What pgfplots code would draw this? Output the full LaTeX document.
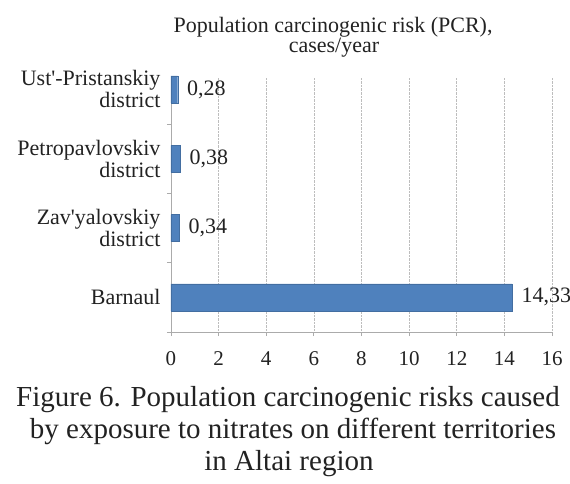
\documentclass[border=0pt]{standalone}
\usepackage{fontspec}
\setmainfont{Liberation Serif}
\usepackage{pgfplots}
\pgfplotsset{compat=1.18}
\definecolor{barblue}{HTML}{4F81BD}
\definecolor{axgray}{HTML}{ABABAB}
\definecolor{gridgray}{HTML}{BDBDBD}
\definecolor{txt}{HTML}{222222}
\begin{document}
\begin{tikzpicture}
\useasboundingbox (-171bp,-152bp) rectangle (399bp,332bp);
\begin{axis}[
  at={(0,0)}, anchor=south west,
  scale only axis, width=381bp, height=255bp,
  xbar, bar width=27bp,
  xmin=0, xmax=16, ymin=-0.5, ymax=3.18,
  xtick={0,2,...,16},
  ytick={0,1,2,3},
  yticklabels={Barnaul, {Zav\textquotesingle yalovskiy\\district}, {Petropavlovskiv\\district}, {Ust\textquotesingle-Pristanskiy\\district}},
  minor ytick={-0.5,0.5,1.5,2.5},
  axis x line*=bottom, axis y line*=left,
  axis line style={axgray, line width=0.8pt, -},
  tick align=outside,
  major tick length=4bp, minor tick length=4bp,
  tick style={axgray, line width=0.8pt},
  major y tick style={draw=none},
  xmajorgrids, grid style={gridgray, densely dotted, line width=0.7pt},
  clip=false,
  /pgf/number format/assume math mode=true,
  xticklabel style={font=\fontsize{21bp}{22bp}\selectfont, text=txt, yshift=-12bp},
  yticklabel style={font=\fontsize{22bp}{22bp}\selectfont, text=txt, align=right, xshift=-3bp},
  nodes near coords,
  nodes near coords style={font=\fontsize{22bp}{22bp}\selectfont, text=txt, anchor=west, xshift=6bp,
    /pgf/number format/.cd, use comma, fixed, fixed zerofill, precision=2},
]
\addplot[fill=barblue, draw=barblue!85!black, line width=0.3pt] coordinates {(14.33,0) (0.34,1) (0.38,2) (0.28,3)};
\end{axis}
\node[anchor=base, text=txt, font=\fontsize{22bp}{22bp}\selectfont] at (162bp,299bp) {Population carcinogenic risk (PCR),};
\node[anchor=base, text=txt, font=\fontsize{22bp}{22bp}\selectfont] at (163bp,279bp) {cases/year};
\node[anchor=base, text=txt, font=\fontsize{29bp}{32bp}\selectfont] at (117bp,-74bp) {Figure 6. Population carcinogenic risks caused};
\node[anchor=base, text=txt, font=\fontsize{29bp}{32bp}\selectfont] at (122bp,-106bp) {by exposure to nitrates on different territories};
\node[anchor=base, text=txt, font=\fontsize{29bp}{32bp}\selectfont] at (118bp,-138bp) {in Altai region};
\end{tikzpicture}
\end{document}
